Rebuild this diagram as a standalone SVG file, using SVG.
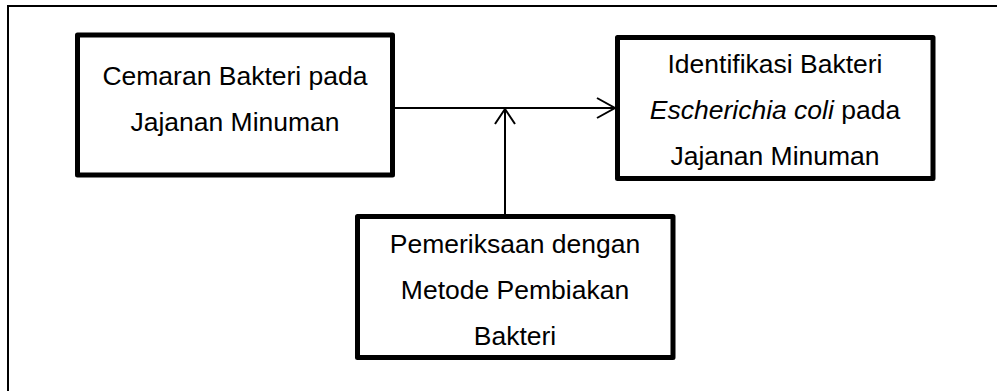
<svg xmlns="http://www.w3.org/2000/svg" width="997" height="391" viewBox="0 0 997 391">
<style>
.box{fill:#fff;stroke:#000;stroke-width:5;stroke-linejoin:round}
.t{font-family:"Liberation Sans",Arial,sans-serif;font-size:26.5px;fill:#000;text-anchor:middle}
.c{fill:none;stroke:#000;stroke-width:2}
</style>
<rect width="997" height="391" fill="#fff"/>
<path d="M8,391 V6 H997" fill="none" stroke="#000" stroke-width="2"/>
<g id="node-cemaran">
<rect class="box" x="77.5" y="35" width="315" height="140"/>
<text class="t" x="235" y="85">Cemaran Bakteri pada</text>
<text class="t" x="235" y="131">Jajanan Minuman</text>
</g>
<g id="node-identifikasi">
<rect class="box" x="617.5" y="37.5" width="315.5" height="141"/>
<text class="t" x="775" y="73">Identifikasi Bakteri</text>
<text class="t" x="775" y="119"><tspan font-style="italic">Escherichia coli</tspan> pada</text>
<text class="t" x="775" y="165">Jajanan Minuman</text>
</g>
<g id="node-pemeriksaan">
<rect class="box" x="357.5" y="216.5" width="315.5" height="141"/>
<text class="t" x="515" y="253">Pemeriksaan dengan</text>
<text class="t" x="515" y="299">Metode Pembiakan</text>
<text class="t" x="515" y="345">Bakteri</text>
</g>
<g id="connectors">
<line class="c" x1="395" y1="108" x2="615" y2="108"/>
<polyline class="c" points="597,98 615,108 597,118"/>
<line class="c" x1="505" y1="214" x2="505" y2="109"/>
<polyline class="c" points="495,124 505,109 515,124"/>
</g>
</svg>
